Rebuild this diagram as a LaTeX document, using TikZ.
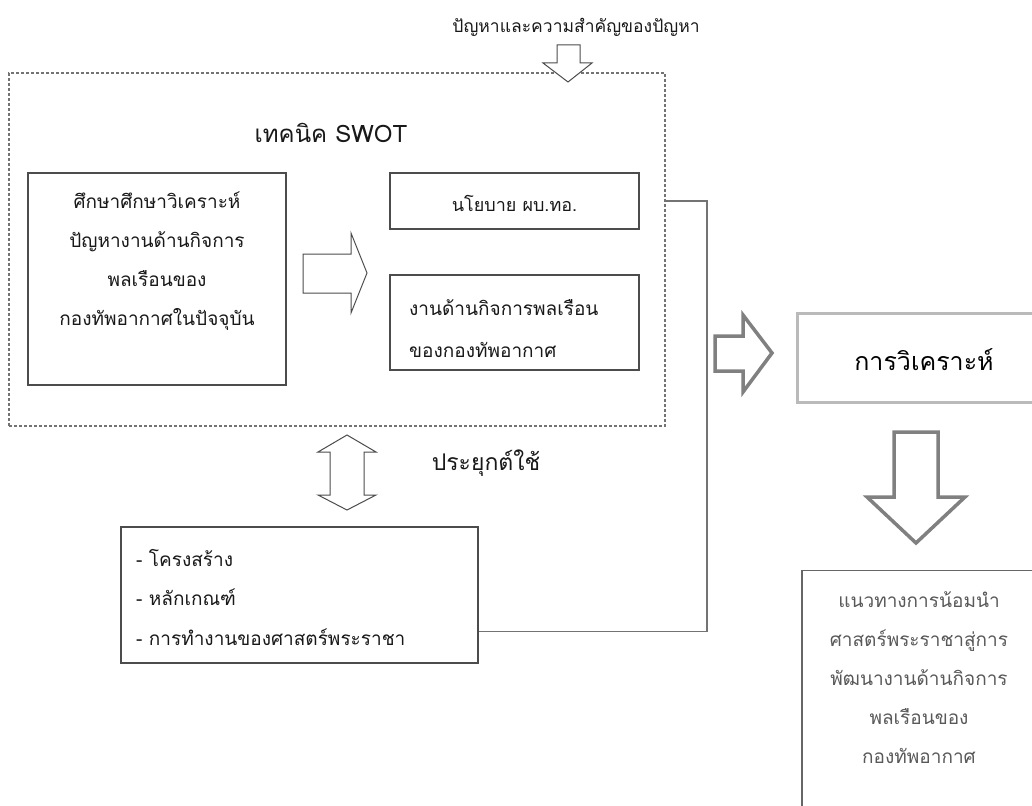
\documentclass[tikz,border=0pt]{standalone}
\usepackage{fontspec}
\setmainfont{Loma}[Script=Thai]
\usetikzlibrary{positioning,calc}

\begin{document}
\begin{tikzpicture}[x=1pt,y=-1pt,
    box/.style={draw=black!70,line width=1.3pt,inner sep=0pt},
    txt/.style={inner sep=0pt,text=black!90,font=\fontsize{19}{39}\selectfont},
    hollow/.style={draw=black!70,line width=1pt,fill=white,line join=miter},
    greyarrow/.style={draw=black!50,line width=3.5pt,fill=white,line join=miter},
    link/.style={draw=black!55,line width=1.4pt}]
\useasboundingbox[fill=white] (0,0) rectangle (1032,805);

% left part
\node[txt,font=\fontsize{17.5}{20}\selectfont] (problem) at (576,27) {ปัญหาและความสำคัญของปัญหา};
\node[draw=black!55,line width=1.2pt,dash pattern=on 3pt off 2pt,minimum width=656pt,minimum height=353pt] (frame) at (337,249.5) {};
\draw[hollow] (557,45) -- (580,45) -- (580,63) -- (592,63) -- (568,82) -- (543,63) -- (557,63) -- cycle;
\node[txt,font=\fontsize{24}{28}\selectfont] (swot) at (331,133) {เทคนิค SWOT};

\node[box,minimum width=258pt,minimum height=212pt] (study) at (157,279) {};
\node[txt,align=center] (studytext) at (157,261.5) {ศึกษาศึกษาวิเคราะห์\\ปัญหางานด้านกิจการ\\พลเรือนของ\\กองทัพอากาศในปัจจุบัน};
\draw[hollow] (303,254) -- (351,254) -- (351,233) -- (367,273) -- (351,313) -- (351,293) -- (303,293) -- cycle;

\node[box,minimum width=249pt,minimum height=56pt] (policy) at (514.5,201) {};
\node[txt,font=\fontsize{18}{20}\selectfont] (policytext) at (514.5,203) {นโยบาย ผบ.ทอ.};
\node[box,minimum width=249pt,minimum height=95pt] (civil) at (514.5,322.5) {};
\node[txt,align=left,anchor=west,font=\fontsize{19}{42}\selectfont] (civiltext) at (409,329) {งานด้านกิจการพลเรือน\\ของกองทัพอากาศ};

\draw[hollow] (347,435) -- (376,452) -- (364,452) -- (364,495) -- (376,495) -- (347,510) -- (318,495) -- (330,495) -- (330,452) -- (318,452) -- cycle;
\node[txt,font=\fontsize{23}{26}\selectfont] (apply) at (486,463) {ประยุกต์ใช้};

\node[box,minimum width=357pt,minimum height=136pt] (rules) at (299.5,595) {};
\node[txt,align=left,anchor=west,font=\fontsize{19}{39.5}\selectfont] (rulestext) at (136,597) {- โครงสร้าง\\- หลักเกณฑ์\\- การทำงานของศาสตร์พระราชา};

\coordinate (bend) at (707,0);
\draw[link] (frame.east |- policy.east) -- (bend |- policy.east) |- ([yshift=32pt]rules.south east);

% right part
\draw[greyarrow] (715,336) -- (743,336) -- (743,315) -- (772,353) -- (743,392) -- (743,371) -- (715,371) -- cycle;
\node[draw=black!27,line width=3pt,minimum width=243pt,minimum height=89pt] (analysis) at (918.5,357.5) {};
\node[txt,text=black,font=\fontsize{25}{28}\selectfont] (analysistext) at (924,360) {การวิเคราะห์};
\draw[greyarrow] (894,432) -- (938,432) -- (938,497) -- (965,497) -- (916,543) -- (867,497) -- (894,497) -- cycle;
\node[box,draw=black!60,line width=1.5pt,minimum width=238pt,minimum height=259pt] (guide) at (921,700) {};
\node[txt,align=center,text=black!65] (guidetext) at (919,678) {แนวทางการน้อมนำ\\ศาสตร์พระราชาสู่การ\\พัฒนางานด้านกิจการ\\พลเรือนของ\\กองทัพอากาศ};
\end{tikzpicture}
\end{document}
